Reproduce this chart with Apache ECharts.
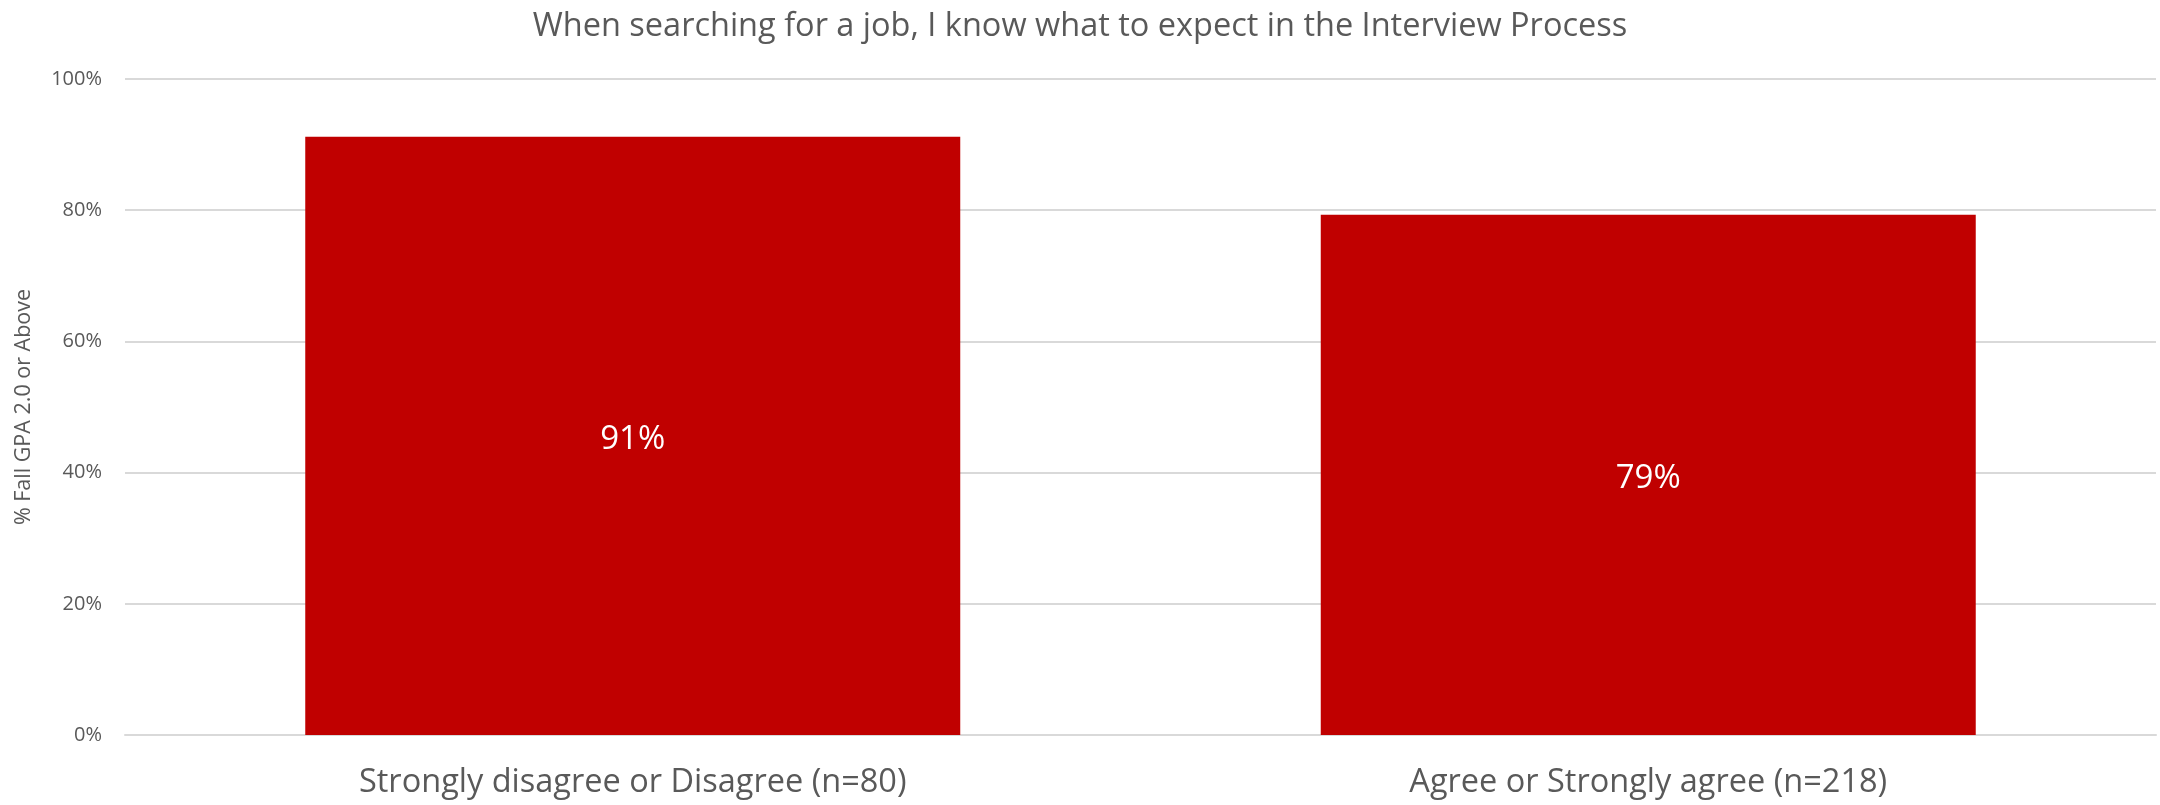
<!DOCTYPE html>
<html>
<head>
<meta charset="utf-8">
<script src="https://cdn.jsdelivr.net/npm/echarts@6/dist/echarts.min.js"></script>
<style>
  html, body { margin: 0; padding: 0; background: #ffffff; }
  #chart { width: 2160px; height: 805px; }
</style>
</head>
<body>
<div id="chart"></div>
<script>
// Survey responses and the share of students at GPA 2.0 or above
const chartTitle = 'When searching for a job, I know what to expect in the Interview Process';
const categories = ['Strongly disagree or Disagree (n=80)', 'Agree or Strongly agree (n=218)'];
const shareValues = [0.912, 0.793];
const yTicks = [0, 0.2, 0.4, 0.6, 0.8, 1.0];
const yAxisTitle = '% Fall GPA 2.0 or Above';

const FONT = '"Open Sans", "Noto Sans", sans-serif';
const TEXT = '#595959';

const chart = echarts.init(document.getElementById('chart'), null, { renderer: 'canvas' });

chart.setOption({
  backgroundColor: '#ffffff',
  animation: false,
  title: {
    text: chartTitle,
    left: 'center',
    top: 5,
    textStyle: { fontFamily: FONT, fontSize: 32.5, fontWeight: 'normal', color: TEXT }
  },
  grid: { left: 125, right: 4, top: 79, bottom: 70, containLabel: false },
  xAxis: {
    type: 'category',
    data: categories,
    axisLine: { show: true, lineStyle: { color: '#d9d9d9', width: 2 } },
    axisTick: { show: false },
    axisLabel: { fontFamily: FONT, fontSize: 32.5, color: TEXT, margin: 31 }
  },
  yAxis: {
    type: 'value',
    min: yTicks[0],
    max: yTicks[yTicks.length - 1],
    interval: 0.2,
    name: yAxisTitle,
    nameLocation: 'middle',
    nameGap: 90,
    nameTextStyle: { fontFamily: FONT, fontSize: 21.5, color: TEXT },
    axisLine: { show: false },
    axisTick: { show: false },
    splitLine: { lineStyle: { color: '#d9d9d9', width: 2 } },
    axisLabel: {
      fontFamily: FONT, fontSize: 20, color: TEXT, margin: 23,
      formatter: v => Math.round(v * 100) + '%'
    }
  },
  series: [{
    type: 'bar',
    data: shareValues,
    barCategoryGap: '35.5%',
    itemStyle: { color: '#c00000' },
    label: {
      show: true,
      position: 'inside',
      offset: [0, 4],
      fontFamily: FONT,
      fontSize: 33,
      color: '#ffffff',
      formatter: p => Math.round(p.value * 100) + '%'
    }
  }]
});
</script>
</body>
</html>
